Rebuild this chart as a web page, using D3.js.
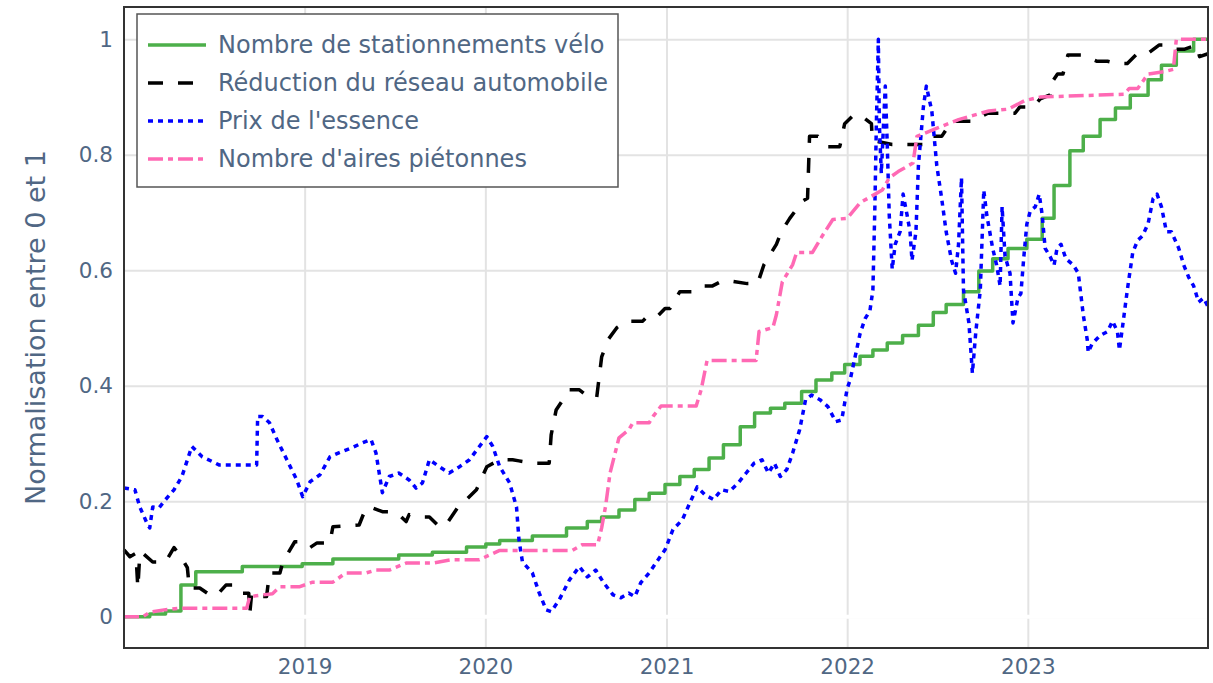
<!DOCTYPE html>
<html>
<head>
<meta charset="utf-8">
<script src="https://cdn.jsdelivr.net/npm/d3@7"></script>
<style>
  body { margin: 0; background: #fff; }
  svg { display: block; }
  text { font-family: "DejaVu Sans", Verdana, sans-serif; }
</style>
</head>
<body>
<svg id="chart" width="1213" height="683"></svg>
<script>
// ticks
const yearTicks = ["2019-01-01", "2020-01-01", "2021-01-01", "2022-01-01", "2023-01-01"];
const yTicks = [0, 0.2, 0.4, 0.6, 0.8, 1];
const yTitle = "Normalisation entre 0 et 1";

// series (date, normalised value)
const veloData = [
  ["2018-01-01", 0], ["2018-02-22", 0.005], ["2018-03-26", 0.01], ["2018-04-26", 0.055],
  ["2018-05-26", 0.078], ["2018-08-28", 0.087], ["2018-12-27", 0.092], ["2019-02-27", 0.1],
  ["2019-07-10", 0.107], ["2019-09-16", 0.112], ["2019-11-24", 0.121], ["2020-01-02", 0.126],
  ["2020-01-30", 0.132], ["2020-04-05", 0.14], ["2020-06-13", 0.154], ["2020-07-25", 0.165],
  ["2020-08-23", 0.173], ["2020-09-27", 0.185], ["2020-10-29", 0.203], ["2020-11-27", 0.214],
  ["2020-12-29", 0.229], ["2021-01-28", 0.243], ["2021-02-26", 0.255], ["2021-03-28", 0.275],
  ["2021-04-26", 0.298], ["2021-05-30", 0.329], ["2021-06-28", 0.353], ["2021-07-30", 0.361],
  ["2021-08-28", 0.37], ["2021-10-01", 0.39], ["2021-10-30", 0.41], ["2021-12-01", 0.422],
  ["2021-12-27", 0.437], ["2022-01-27", 0.451], ["2022-02-22", 0.462], ["2022-03-23", 0.474],
  ["2022-04-23", 0.487], ["2022-05-25", 0.505], ["2022-06-24", 0.527], ["2022-07-20", 0.541],
  ["2022-08-24", 0.563], ["2022-09-24", 0.599], ["2022-10-22", 0.62], ["2022-11-22", 0.638],
  ["2022-12-30", 0.654], ["2023-01-30", 0.69], ["2023-02-23", 0.747], ["2023-03-27", 0.807],
  ["2023-04-23", 0.832], ["2023-05-27", 0.861], ["2023-06-27", 0.881], ["2023-07-27", 0.903],
  ["2023-09-01", 0.93], ["2023-09-28", 0.955], ["2023-10-28", 0.98], ["2023-12-02", 1.0],
  ["2023-12-31", 1.0]
];

const reseauData = [
  ["2018-01-01", 0.116], ["2018-01-13", 0.104], ["2018-01-25", 0.11], ["2018-01-29", 0.05],
  ["2018-02-02", 0.11], ["2018-02-08", 0.11], ["2018-02-28", 0.095], ["2018-03-26", 0.095],
  ["2018-04-12", 0.12], ["2018-04-26", 0.104], ["2018-05-09", 0.085], ["2018-05-13", 0.05],
  ["2018-06-03", 0.05], ["2018-06-23", 0.038], ["2018-07-08", 0.038], ["2018-07-26", 0.055],
  ["2018-08-16", 0.055], ["2018-08-28", 0.041], ["2018-09-10", 0.041], ["2018-09-12", 0.005],
  ["2018-09-16", 0.041], ["2018-09-26", 0.035], ["2018-10-16", 0.035], ["2018-10-22", 0.076],
  ["2018-11-12", 0.076], ["2018-11-18", 0.095], ["2018-12-12", 0.13], ["2018-12-28", 0.13],
  ["2019-01-12", 0.12], ["2019-01-26", 0.128], ["2019-02-21", 0.128], ["2019-02-27", 0.156],
  ["2019-04-21", 0.159], ["2019-05-05", 0.189], ["2019-05-17", 0.189], ["2019-06-07", 0.182],
  ["2019-06-27", 0.182], ["2019-07-10", 0.177], ["2019-07-25", 0.165], ["2019-07-31", 0.177],
  ["2019-08-27", 0.173], ["2019-09-10", 0.173], ["2019-09-30", 0.156], ["2019-10-14", 0.16],
  ["2019-11-10", 0.194], ["2019-11-24", 0.203], ["2019-12-14", 0.22], ["2020-01-04", 0.26],
  ["2020-01-30", 0.272], ["2020-02-25", 0.272], ["2020-03-09", 0.27], ["2020-04-05", 0.266],
  ["2020-05-09", 0.266], ["2020-05-13", 0.315], ["2020-05-23", 0.358], ["2020-06-19", 0.393],
  ["2020-07-09", 0.393], ["2020-07-29", 0.38], ["2020-08-13", 0.38], ["2020-08-23", 0.45],
  ["2020-09-05", 0.48], ["2020-09-23", 0.501], ["2020-10-13", 0.512], ["2020-11-14", 0.512],
  ["2020-11-22", 0.519], ["2020-12-12", 0.519], ["2020-12-29", 0.534], ["2021-01-08", 0.534],
  ["2021-01-28", 0.563], ["2021-02-24", 0.563], ["2021-03-14", 0.573], ["2021-04-04", 0.573],
  ["2021-04-22", 0.581], ["2021-05-14", 0.581], ["2021-06-13", 0.577], ["2021-07-04", 0.577],
  ["2021-07-17", 0.61], ["2021-08-11", 0.645], ["2021-08-21", 0.667], ["2021-09-07", 0.69],
  ["2021-10-03", 0.72], ["2021-10-13", 0.725], ["2021-10-17", 0.832], ["2021-11-03", 0.832],
  ["2021-11-21", 0.814], ["2021-12-17", 0.814], ["2021-12-27", 0.854], ["2022-01-13", 0.868],
  ["2022-01-29", 0.868], ["2022-02-19", 0.854], ["2022-02-21", 0.825], ["2022-04-02", 0.818],
  ["2022-06-08", 0.818], ["2022-06-21", 0.832], ["2022-07-11", 0.832], ["2022-07-31", 0.858],
  ["2022-09-11", 0.858], ["2022-10-12", 0.872], ["2022-12-06", 0.872], ["2022-12-16", 0.883],
  ["2023-01-12", 0.883], ["2023-01-26", 0.897], ["2023-02-15", 0.904], ["2023-02-19", 0.926],
  ["2023-03-02", 0.94], ["2023-03-13", 0.94], ["2023-03-23", 0.973], ["2023-04-19", 0.973],
  ["2023-05-21", 0.962], ["2023-06-11", 0.962], ["2023-07-01", 0.958], ["2023-07-21", 0.958],
  ["2023-08-11", 0.976], ["2023-09-01", 0.976], ["2023-09-23", 0.99], ["2023-10-04", 0.99],
  ["2023-10-24", 0.983], ["2023-11-14", 0.983], ["2023-12-08", 0.99], ["2023-12-14", 0.97],
  ["2023-12-31", 0.975]
];

const essenceData = [
  ["2018-01-01", 0.223], ["2018-01-23", 0.22], ["2018-02-02", 0.19], ["2018-02-16", 0.163],
  ["2018-02-22", 0.154], ["2018-02-28", 0.19], ["2018-03-13", 0.189], ["2018-03-26", 0.203],
  ["2018-04-12", 0.22], ["2018-04-28", 0.243], ["2018-05-18", 0.295], ["2018-06-08", 0.277],
  ["2018-06-28", 0.269], ["2018-07-12", 0.263], ["2018-09-26", 0.263], ["2018-09-28", 0.347],
  ["2018-10-08", 0.347], ["2018-10-22", 0.336], ["2018-11-06", 0.307], ["2018-11-26", 0.272],
  ["2018-12-16", 0.237], ["2018-12-28", 0.208], ["2019-01-12", 0.234], ["2019-02-01", 0.246],
  ["2019-02-21", 0.277], ["2019-03-11", 0.284], ["2019-04-07", 0.293], ["2019-04-27", 0.301],
  ["2019-05-15", 0.307], ["2019-05-25", 0.284], ["2019-06-07", 0.215], ["2019-06-21", 0.243],
  ["2019-07-10", 0.249], ["2019-07-31", 0.237], ["2019-08-14", 0.223], ["2019-08-27", 0.232],
  ["2019-09-10", 0.272], ["2019-09-30", 0.26], ["2019-10-20", 0.249], ["2019-11-10", 0.26],
  ["2019-11-30", 0.272], ["2019-12-20", 0.295], ["2020-01-04", 0.312], ["2020-01-16", 0.295],
  ["2020-01-30", 0.26], ["2020-02-19", 0.232], ["2020-03-04", 0.19], ["2020-03-09", 0.133],
  ["2020-03-16", 0.095], ["2020-04-05", 0.076], ["2020-04-19", 0.041], ["2020-05-03", 0.012],
  ["2020-05-13", 0.009], ["2020-05-29", 0.029], ["2020-06-19", 0.064], ["2020-07-09", 0.087],
  ["2020-07-25", 0.069], ["2020-08-11", 0.081], ["2020-08-27", 0.059], ["2020-09-15", 0.038],
  ["2020-10-01", 0.033], ["2020-10-17", 0.041], ["2020-10-29", 0.035], ["2020-11-10", 0.059],
  ["2020-11-27", 0.076], ["2020-12-12", 0.095], ["2020-12-29", 0.116], ["2021-01-14", 0.151],
  ["2021-02-02", 0.168], ["2021-02-17", 0.197], ["2021-03-04", 0.225], ["2021-03-20", 0.211],
  ["2021-04-06", 0.203], ["2021-04-22", 0.22], ["2021-05-08", 0.217], ["2021-05-26", 0.232],
  ["2021-06-11", 0.249], ["2021-06-27", 0.266], ["2021-07-13", 0.272], ["2021-07-26", 0.249],
  ["2021-08-07", 0.266], ["2021-08-19", 0.243], ["2021-09-01", 0.255], ["2021-09-13", 0.284],
  ["2021-09-27", 0.324], ["2021-10-09", 0.376], ["2021-10-21", 0.384], ["2021-11-07", 0.376],
  ["2021-11-23", 0.364], ["2021-12-09", 0.338], ["2021-12-21", 0.341], ["2022-01-01", 0.395],
  ["2022-01-07", 0.41], ["2022-01-17", 0.45], ["2022-01-27", 0.49], ["2022-02-06", 0.516],
  ["2022-02-16", 0.53], ["2022-02-22", 0.566], ["2022-02-26", 0.71], ["2022-03-01", 0.854],
  ["2022-03-05", 1.0], ["2022-03-07", 0.854], ["2022-03-11", 0.768], ["2022-03-19", 0.919],
  ["2022-03-23", 0.818], ["2022-03-27", 0.696], ["2022-04-02", 0.602], ["2022-04-08", 0.645],
  ["2022-04-18", 0.667], ["2022-04-24", 0.732], ["2022-05-02", 0.696], ["2022-05-08", 0.667],
  ["2022-05-12", 0.617], ["2022-05-20", 0.667], ["2022-05-25", 0.782], ["2022-06-04", 0.883],
  ["2022-06-10", 0.919], ["2022-06-21", 0.876], ["2022-07-01", 0.782], ["2022-07-11", 0.724],
  ["2022-07-20", 0.667], ["2022-07-31", 0.617], ["2022-08-08", 0.595], ["2022-08-14", 0.645],
  ["2022-08-20", 0.76], ["2022-08-24", 0.566], ["2022-09-04", 0.509], ["2022-09-11", 0.422],
  ["2022-09-18", 0.494], ["2022-09-27", 0.566], ["2022-10-04", 0.739], ["2022-10-10", 0.696],
  ["2022-10-16", 0.667], ["2022-10-22", 0.638], ["2022-10-30", 0.609], ["2022-11-06", 0.573],
  ["2022-11-10", 0.71], ["2022-11-16", 0.624], ["2022-11-26", 0.595], ["2022-12-02", 0.509],
  ["2022-12-12", 0.552], ["2022-12-18", 0.56], ["2022-12-24", 0.624], ["2022-12-30", 0.68],
  ["2023-01-06", 0.703], ["2023-01-16", 0.71], ["2023-01-24", 0.732], ["2023-01-30", 0.696],
  ["2023-02-05", 0.638], ["2023-02-15", 0.624], ["2023-02-23", 0.609], ["2023-03-01", 0.638],
  ["2023-03-09", 0.645], ["2023-03-19", 0.62], ["2023-04-03", 0.609], ["2023-04-13", 0.595],
  ["2023-04-17", 0.566], ["2023-04-23", 0.523], ["2023-05-01", 0.48], ["2023-05-03", 0.458],
  ["2023-05-11", 0.473], ["2023-05-27", 0.487], ["2023-06-11", 0.494], ["2023-06-21", 0.512],
  ["2023-07-01", 0.494], ["2023-07-05", 0.462], ["2023-07-11", 0.5], ["2023-07-21", 0.566],
  ["2023-08-01", 0.631], ["2023-08-11", 0.652], ["2023-08-21", 0.66], ["2023-09-01", 0.681],
  ["2023-09-11", 0.724], ["2023-09-19", 0.732], ["2023-09-28", 0.71], ["2023-10-08", 0.667],
  ["2023-10-18", 0.667], ["2023-11-02", 0.638], ["2023-11-12", 0.609], ["2023-11-22", 0.588],
  ["2023-12-02", 0.573], ["2023-12-12", 0.545], ["2023-12-22", 0.552], ["2023-12-31", 0.537]
];

const pietonData = [
  ["2018-01-01", 0], ["2018-02-08", 0], ["2018-02-22", 0.008], ["2018-03-23", 0.012],
  ["2018-04-23", 0.015], ["2018-09-06", 0.015], ["2018-09-12", 0.035], ["2018-10-28", 0.04],
  ["2018-11-12", 0.052], ["2018-12-21", 0.052], ["2019-01-17", 0.06], ["2019-02-27", 0.06],
  ["2019-03-25", 0.076], ["2019-05-05", 0.076], ["2019-05-25", 0.081], ["2019-06-21", 0.081],
  ["2019-07-25", 0.093], ["2019-09-16", 0.093], ["2019-10-26", 0.099], ["2019-12-20", 0.099],
  ["2020-01-30", 0.115], ["2020-06-25", 0.115], ["2020-07-15", 0.125], ["2020-08-15", 0.125],
  ["2020-08-23", 0.154], ["2020-08-31", 0.192], ["2020-09-09", 0.249], ["2020-09-27", 0.31],
  ["2020-10-17", 0.324], ["2020-10-25", 0.336], ["2020-11-27", 0.336], ["2020-12-05", 0.347],
  ["2020-12-21", 0.365], ["2021-03-02", 0.365], ["2021-03-12", 0.393], ["2021-03-24", 0.444],
  ["2021-07-01", 0.444], ["2021-07-07", 0.494], ["2021-08-04", 0.501], ["2021-08-11", 0.523],
  ["2021-08-23", 0.58], ["2021-09-13", 0.61], ["2021-09-21", 0.631], ["2021-10-23", 0.631],
  ["2021-11-12", 0.66], ["2021-12-03", 0.688], ["2022-01-01", 0.69], ["2022-01-27", 0.717],
  ["2022-03-13", 0.739], ["2022-03-27", 0.76], ["2022-04-14", 0.771], ["2022-05-14", 0.786],
  ["2022-05-22", 0.832], ["2022-07-04", 0.847], ["2022-08-14", 0.861], ["2022-09-11", 0.868],
  ["2022-10-14", 0.876], ["2022-11-22", 0.879], ["2022-12-26", 0.894], ["2023-01-26", 0.9],
  ["2023-07-15", 0.905], ["2023-07-25", 0.915], ["2023-08-11", 0.915], ["2023-09-01", 0.94],
  ["2023-10-04", 0.944], ["2023-10-22", 0.948], ["2023-10-28", 1.0], ["2023-12-31", 1.0]
];

const seriesNames = [
  "Nombre de stationnements vélo",
  "Réduction du réseau automobile",
  "Prix de l'essence",
  "Nombre d'aires piétonnes"
];

const parse = d3.timeParse("%Y-%m-%d");
const svg = d3.select("#chart");

const mLeft = 124, mRight = 1208, mTop = 7, mBottom = 648;
const textColor = "#506784";

let x = d3.scaleTime()
  .domain([parse("2018-01-01"), parse("2023-12-31")])
  .range([mLeft, mRight]);
let y = d3.scaleLinear()
  .domain([-0.054, 1.056])
  .range([mBottom, mTop]);

// grid + tick labels
let xAxis = svg.append("g")
  .attr("transform", "translate(0," + mBottom + ")")
  .call(d3.axisBottom(x)
    .tickValues(yearTicks.map(parse))
    .tickFormat(d3.timeFormat("%Y"))
    .tickSizeInner(-(mBottom - mTop))
    .tickSizeOuter(0)
    .tickPadding(11));

let yAxis = svg.append("g")
  .attr("transform", "translate(" + mLeft + ",0)")
  .call(d3.axisLeft(y)
    .tickValues(yTicks)
    .tickFormat(d => d === 0 || d === 1 ? String(d) : d3.format(".1f")(d))
    .tickSizeInner(-(mRight - mLeft))
    .tickSizeOuter(0)
    .tickPadding(11));

[xAxis, yAxis].forEach(ax => {
  ax.select(".domain").remove();
  ax.selectAll(".tick line").attr("stroke", "#e3e3e3").attr("stroke-width", 2);
  ax.selectAll(".tick text")
    .attr("fill", textColor)
    .style("font-size", "21.5px");
});

// white zero line
svg.append("line")
  .attr("x1", mLeft).attr("x2", mRight)
  .attr("y1", y(0)).attr("y2", y(0))
  .attr("stroke", "#fff").attr("stroke-width", 4);

// series
const series = [
  {name: seriesNames[0], data: veloData, color: "#4daf4a", dash: null, curve: d3.curveStepAfter},
  {name: seriesNames[1], data: reseauData, color: "#000000", dash: "15,15", curve: d3.curveLinear},
  {name: seriesNames[2], data: essenceData, color: "#0000ff", dash: "5,5", curve: d3.curveLinear},
  {name: seriesNames[3], data: pietonData, color: "#ff69b4", dash: "15,5,5,5", curve: d3.curveLinear}
];

let plot = svg.append("g");
series.forEach(s => {
  let line = d3.line()
    .curve(s.curve)
    .x(d => x(parse(d[0])))
    .y(d => y(d[1]));
  plot.append("path")
    .datum(s.data)
    .attr("d", line)
    .attr("fill", "none")
    .attr("stroke", s.color)
    .attr("stroke-width", 3.5)
    .attr("stroke-dasharray", s.dash)
    .attr("stroke-linejoin", "round");
});

// frame
svg.append("rect")
  .attr("x", mLeft).attr("y", mTop)
  .attr("width", mRight - mLeft).attr("height", mBottom - mTop)
  .attr("fill", "none")
  .attr("stroke", "#333")
  .attr("stroke-width", 2);

// y title
svg.append("text")
  .attr("transform", "translate(35," + ((mTop + mBottom) / 2) + ") rotate(-90)")
  .attr("text-anchor", "middle")
  .attr("dominant-baseline", "central")
  .attr("fill", textColor)
  .style("font-size", "27px")
  .text(yTitle);

// legend
let legend = svg.append("g");
legend.append("rect")
  .attr("x", 137).attr("y", 14)
  .attr("width", 481).attr("height", 173)
  .attr("fill", "#fff")
  .attr("stroke", "#555")
  .attr("stroke-width", 1.5);

series.forEach((s, i) => {
  let cy = 45 + i * 38;
  legend.append("line")
    .attr("x1", 148).attr("x2", 206)
    .attr("y1", cy).attr("y2", cy)
    .attr("stroke", s.color)
    .attr("stroke-width", 3.5)
    .attr("stroke-dasharray", s.dash);
  legend.append("text")
    .attr("x", 218).attr("y", cy)
    .attr("dy", "0.35em")
    .attr("fill", textColor)
    .style("font-size", "24px")
    .text(s.name);
});
</script>
</body>
</html>
